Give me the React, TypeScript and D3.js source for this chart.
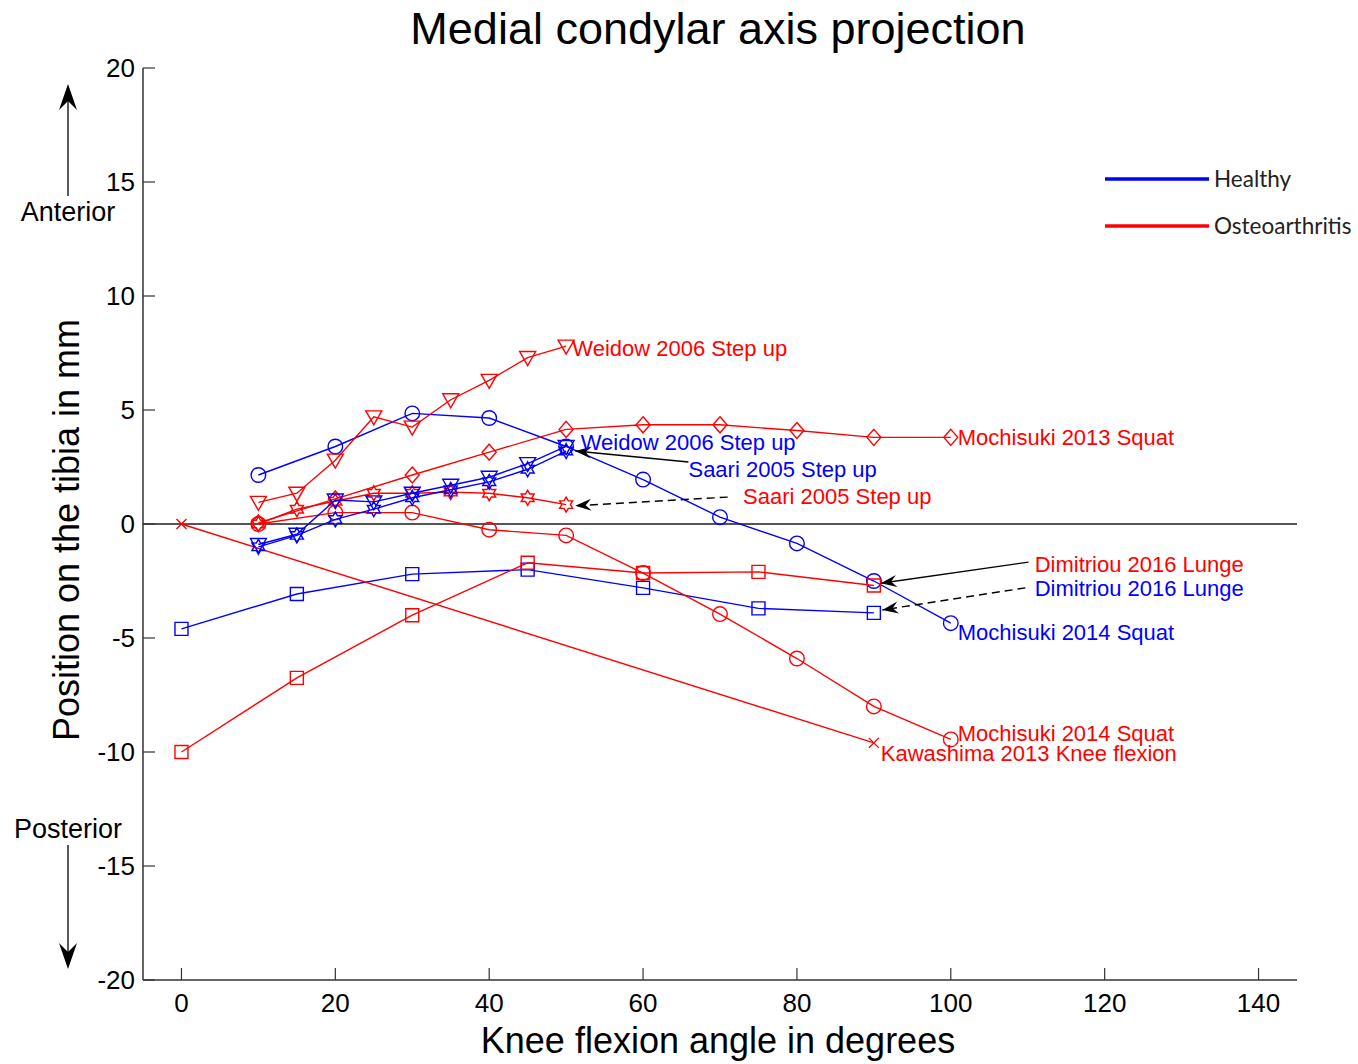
import React from "react";
import * as d3 from "d3";

// knee flexion angles
const x5 = [10, 15, 20, 25, 30, 35, 40, 45, 50];
const x10 = [10, 20, 30, 40, 50, 60, 70, 80, 90, 100];
const x15 = [0, 15, 30, 45, 60, 75, 90];
const xKawa = [0, 90];

// healthy (blue)
const mochisuki2014Healthy = [2.15, 3.4, 4.85, 4.65, 3.4, 1.95, 0.3, -0.85, -2.5, -4.35];
const weidowHealthy = [-0.9, -0.45, 1.05, 0.97, 1.35, 1.7, 2.05, 2.65, 3.4];
const saariHealthy = [-1.0, -0.5, 0.2, 0.65, 1.15, 1.5, 1.85, 2.4, 3.2];
const dimitriouHealthy = [-4.6, -3.07, -2.2, -2.0, -2.8, -3.7, -3.9];

// osteoarthritis (red)
const weidowOA = [0.95, 1.35, 2.8, 4.7, 4.25, 5.45, 6.3, 7.3, 7.8];
const saariOA = [0.0, 0.65, 1.0, 1.35, 1.35, 1.4, 1.35, 1.15, 0.85];
const mochisuki2013OA = [0.05, 1.1, 2.15, 3.15, 4.15, 4.35, 4.35, 4.1, 3.8, 3.8];
const mochisuki2014OA = [0.0, 0.5, 0.5, -0.25, -0.5, -2.15, -3.95, -5.9, -8.0, -9.45];
const dimitriouOA = [-10, -6.75, -4.0, -1.7, -2.15, -2.1, -2.7];
const kawashimaOA = [0, -9.6];

const xTicks = [0, 20, 40, 60, 80, 100, 120, 140];
const yTicks = [-20, -15, -10, -5, 0, 5, 10, 15, 20];

const BLUE = "#0000ff";
const RED = "#ff0000";

type Series = { xs: number[]; ys: number[]; color: string; marker: string };

const series: Series[] = [
  { xs: x15, ys: dimitriouHealthy, color: BLUE, marker: "square" },
  { xs: x10, ys: mochisuki2014Healthy, color: BLUE, marker: "circle" },
  { xs: xKawa, ys: kawashimaOA, color: RED, marker: "x" },
  { xs: x15, ys: dimitriouOA, color: RED, marker: "square" },
  { xs: x10, ys: mochisuki2014OA, color: RED, marker: "circle" },
  { xs: x10, ys: mochisuki2013OA, color: RED, marker: "diamond" },
  { xs: x5, ys: saariOA, color: RED, marker: "hexagram" },
  { xs: x5, ys: weidowOA, color: RED, marker: "triangle" },
  { xs: x5, ys: saariHealthy, color: BLUE, marker: "hexagram" },
  { xs: x5, ys: weidowHealthy, color: BLUE, marker: "triangle" },
];

// label text, colour, anchor point in data units
const labelText = [
  "Weidow 2006 Step up",
  "Mochisuki 2013 Squat",
  "Weidow 2006 Step up",
  "Saari 2005 Step up",
  "Saari 2005 Step up",
  "Dimitriou 2016 Lunge",
  "Dimitriou 2016 Lunge",
  "Mochisuki 2014 Squat",
  "Mochisuki 2014 Squat",
  "Kawashima 2013 Knee flexion",
];
const labelColor = [RED, RED, BLUE, BLUE, RED, RED, BLUE, BLUE, RED, RED];
const labelX = [50.8, 100.9, 51.9, 65.9, 73, 110.9, 110.9, 100.9, 100.9, 90.9];
const labelY = [7.72, 3.8, 3.6, 2.4, 1.23, -1.75, -2.8, -4.74, -9.17, -10.04];

// arrows: [x0, y0, x1, y1], dashed?
const arrows: [number, number, number, number, boolean][] = [
  [65.9, 2.72, 51.2, 3.2, false],
  [71, 1.18, 51.2, 0.8, true],
  [110.1, -1.67, 90.9, -2.6, false],
  [109.7, -2.8, 91.1, -3.77, true],
];

const W = 1358;
const H = 1064;
const margin = { left: 143, right: 61, top: 68, bottom: 84 };

const x = d3.scaleLinear().domain([-5, 145]).range([margin.left, W - margin.right]);
const y = d3.scaleLinear().domain([-20, 20]).range([H - margin.bottom, margin.top]);

function markerPath(kind: string): string {
  if (kind === "square") return "M-6.5,-6.5H6.5V6.5H-6.5Z";
  if (kind === "diamond") return "M0,-8L7,0L0,8L-7,0Z";
  if (kind === "triangle") return "M-8,-6H8L0,8Z";
  if (kind === "x") return "M-5,-5L5,5M-5,5L5,-5";
  if (kind === "hexagram") {
    const pts: string[] = [];
    for (let i = 0; i < 12; i++) {
      const r = i % 2 === 0 ? 7.5 : 4.3;
      const a = (Math.PI / 6) * i - Math.PI / 2;
      pts.push(`${(r * Math.cos(a)).toFixed(2)},${(r * Math.sin(a)).toFixed(2)}`);
    }
    return "M" + pts.join("L") + "Z";
  }
  return "";
}

function arrowHead(x0: number, y0: number, x1: number, y1: number): string {
  const ang = Math.atan2(y1 - y0, x1 - x0);
  const len = 16;
  const wid = 6;
  const pt = (a: number, b: number) => {
    const c = Math.cos(ang);
    const s = Math.sin(ang);
    return `${x1 + a * c - b * s},${y1 + a * s + b * c}`;
  };
  return `M${pt(0, 0)}L${pt(-len, -wid)}L${pt(-len * 0.65, 0)}L${pt(-len, wid)}Z`;
}

const line = d3
  .line<[number, number]>()
  .x((d) => x(d[0]))
  .y((d) => y(d[1]));

const App = () => {
  const font = "Liberation Sans, Arial, sans-serif";
  return (
    <svg
      width={W}
      height={H}
      style={{ position: "absolute", left: 0, top: 0, background: "#fff" }}
      fontFamily={font}
    >
      <text x={718} y={44} fontSize={45} textAnchor="middle">
        Medial condylar axis projection
      </text>

      {/* zero line */}
      <line x1={x(-5)} x2={x(145)} y1={y(0)} y2={y(0)} stroke="#555" strokeWidth={1.8} />

      {/* axes */}
      <line x1={x(-5)} x2={x(-5)} y1={y(20)} y2={y(-20)} stroke="#333" strokeWidth={1.5} />
      <line x1={x(-5)} x2={x(145)} y1={y(-20)} y2={y(-20)} stroke="#333" strokeWidth={1.5} />
      {yTicks.map((t) => (
        <g key={"y" + t}>
          <line x1={x(-5)} x2={x(-5) + 12} y1={y(t)} y2={y(t)} stroke="#333" strokeWidth={1.2} />
          <text x={x(-5) - 8} y={y(t)} dy="0.35em" fontSize={26} textAnchor="end">
            {t}
          </text>
        </g>
      ))}
      {xTicks.map((t) => (
        <g key={"x" + t}>
          <line x1={x(t)} x2={x(t)} y1={y(-20)} y2={y(-20) - 12} stroke="#333" strokeWidth={1.2} />
          <text x={x(t)} y={y(-20) + 32} fontSize={26} textAnchor="middle">
            {t}
          </text>
        </g>
      ))}

      <text x={718} y={1053} fontSize={36} textAnchor="middle">
        Knee flexion angle in degrees
      </text>
      <text
        transform={`translate(79,${530}) rotate(-90)`}
        fontSize={36}
        textAnchor="middle"
      >
        Position on the tibia in mm
      </text>

      {/* anterior / posterior arrows */}
      <line x1={68} x2={68} y1={196} y2={100} stroke="#000" strokeWidth={1.3} />
      <path d="M68,84L59,110L68,101L77,110Z" fill="#000" />
      <text x={68} y={221} fontSize={27} textAnchor="middle">
        Anterior
      </text>
      <text x={68} y={838} fontSize={27} textAnchor="middle">
        Posterior
      </text>
      <line x1={68} x2={68} y1={845} y2={955} stroke="#000" strokeWidth={1.3} />
      <path d="M68,969L59,943L68,952L77,943Z" fill="#000" />

      {/* series */}
      {series.map((s, i) => {
        const pts = s.xs.map((v, j) => [v, s.ys[j]] as [number, number]);
        return (
          <g key={"s" + i}>
            <path d={line(pts) || ""} fill="none" stroke={s.color} strokeWidth={1.4} />
            {pts.map((p, j) =>
              s.marker === "circle" ? (
                <circle key={j} cx={x(p[0])} cy={y(p[1])} r={7.3} fill="none" stroke={s.color} strokeWidth={1.4} />
              ) : (
                <path
                  key={j}
                  transform={`translate(${x(p[0])},${y(p[1])})`}
                  d={markerPath(s.marker)}
                  fill="none"
                  stroke={s.color}
                  strokeWidth={1.4}
                />
              )
            )}
          </g>
        );
      })}

      {/* annotation arrows */}
      {arrows.map((a, i) => {
        const [x0, y0, x1, y1, dashed] = a;
        return (
          <g key={"a" + i}>
            <line
              x1={x(x0)}
              y1={y(y0)}
              x2={x(x1)}
              y2={y(y1)}
              stroke="#000"
              strokeWidth={1.4}
              strokeDasharray={dashed ? "8,5" : undefined}
            />
            <path d={arrowHead(x(x0), y(y0), x(x1), y(y1))} fill="#000" />
          </g>
        );
      })}

      {/* annotation labels */}
      {labelText.map((t, i) => (
        <text key={"l" + i} x={x(labelX[i])} y={y(labelY[i])} dy="0.35em" fontSize={22} fill={labelColor[i]}>
          {t}
        </text>
      ))}

      {/* legend */}
      <line x1={1105} x2={1209} y1={179} y2={179} stroke={BLUE} strokeWidth={3.5} />
      <text x={1214} y={179} dy="0.35em" fontSize={22.5} fontFamily="Lato, sans-serif" fill="#222">
        Healthy
      </text>
      <line x1={1105} x2={1209} y1={226} y2={226} stroke={RED} strokeWidth={3.5} />
      <text x={1214} y={226} dy="0.35em" fontSize={22.5} fontFamily="Lato, sans-serif" fill="#222">
        Osteoarthritis
      </text>
    </svg>
  );
};

export default App;
